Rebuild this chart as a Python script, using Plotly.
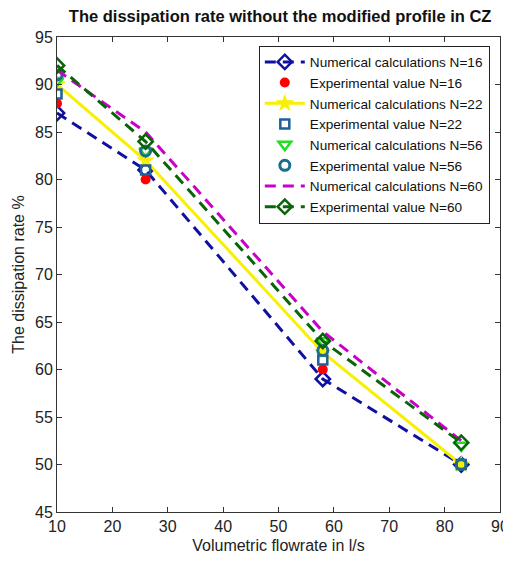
import plotly.graph_objects as go

flow = [10, 26, 58, 83]
num16 = [87, 81, 59, 50]
exp16 = [88, 80, 60, 50]
num22 = [90, 82, 61.8, 50]
exp22 = [89, 81, 61, 50]
num56 = [90.4, 83, 63, 52]
exp56 = [91, 83, 62, 50]
num60 = [91.5, 85, 64, 52.5]
exp60 = [92, 84, 63, 52.3]

fig = go.Figure()
fig.add_trace(go.Scatter(x=flow, y=num16, name="Numerical calculations N=16", mode="lines+markers",
                         line=dict(color="#1010a0", width=3, dash="11px,7px"),
                         marker=dict(symbol="diamond-open", size=11, color="#1010a0", line=dict(width=2.5))))
fig.add_trace(go.Scatter(x=flow, y=exp16, name="Experimental value N=16", mode="markers",
                         marker=dict(symbol="circle", size=10, color="#ff0000")))
fig.add_trace(go.Scatter(x=flow, y=num22, name="Numerical calculations N=22", mode="lines+markers",
                         line=dict(color="#f8f000", width=3),
                         marker=dict(symbol="star", size=14, color="#f8f000")))
fig.add_trace(go.Scatter(x=flow, y=exp22, name="Experimental value N=22", mode="markers",
                         marker=dict(symbol="square-open", size=9, color="#1f5f9a", line=dict(width=2.5))))
fig.add_trace(go.Scatter(x=flow, y=num56, name="Numerical calculations N=56", mode="markers",
                         marker=dict(symbol="triangle-down-open", size=11, color="#22dd22", line=dict(width=2.5))))
fig.add_trace(go.Scatter(x=flow, y=exp56, name="Experimental value N=56", mode="markers",
                         marker=dict(symbol="circle-open", size=10, color="#1b6d8f", line=dict(width=3))))
fig.add_trace(go.Scatter(x=flow, y=num60, name="Numerical calculations N=60", mode="lines",
                         line=dict(color="#c800c8", width=3, dash="11px,7px")))
fig.add_trace(go.Scatter(x=flow, y=exp60, name="Experimental value N=60", mode="lines+markers",
                         line=dict(color="#0a640a", width=3, dash="11px,7px"),
                         marker=dict(symbol="diamond-open", size=11, color="#0a640a", line=dict(width=2.5))))

axis_common = dict(showgrid=False, zeroline=False, showline=True, linecolor="#333333", linewidth=1,
                   mirror="ticks", ticks="inside", ticklen=5, tickcolor="#333333", automargin=False,
                   tickfont=dict(family="Liberation Sans, Arial", size=16, color="#222222"))

# page body has an 8px margin, so the figure is sized to fit the window after that offset
fig.update_layout(
    width=503, height=554,
    margin=dict(l=49, r=11, t=29, b=50),
    paper_bgcolor="white", plot_bgcolor="white",
    title=dict(text="<b>The dissipation rate without the modified profile in CZ</b>",
               x=0.541, xanchor="center", y=0.985, yanchor="middle",
               font=dict(family="Liberation Sans, Arial", size=16.5, color="#111111")),
    xaxis=dict(range=[10, 90], tickvals=[10, 20, 30, 40, 50, 60, 70, 80, 90],
               title=dict(text="Volumetric flowrate in l/s", standoff=5,
                          font=dict(family="Liberation Sans, Arial", size=16, color="#222222")),
               **axis_common),
    yaxis=dict(range=[45, 95], tickvals=[45, 50, 55, 60, 65, 70, 75, 80, 85, 90, 95],
               title=dict(text="The dissipation rate %", standoff=6,
                          font=dict(family="Liberation Sans, Arial", size=16, color="#222222")),
               **axis_common),
    legend=dict(x=0.977, xanchor="right", y=0.982, yanchor="top",
                bordercolor="#222222", borderwidth=1, bgcolor="white",
                font=dict(family="Liberation Sans, Arial", size=13.6, color="#111111"),
                itemwidth=40, tracegroupgap=0),
    showlegend=True,
)

fig.write_html("out.html")
